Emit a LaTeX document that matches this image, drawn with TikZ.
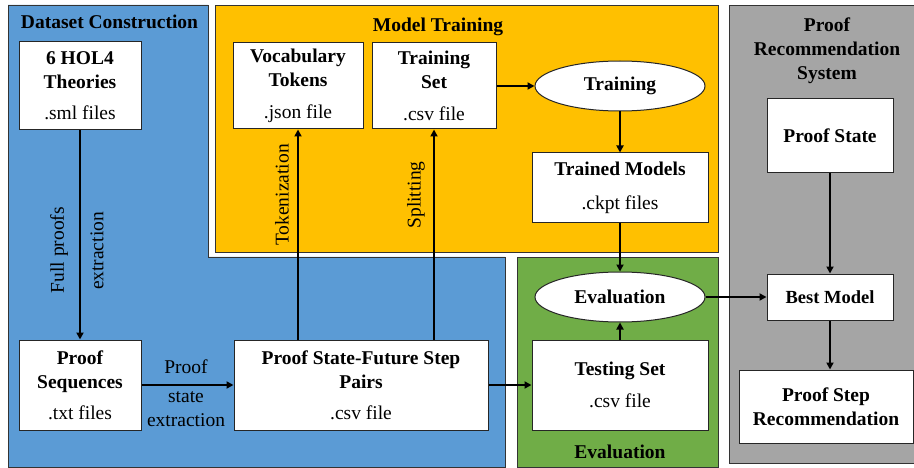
\documentclass[tikz,border=0pt]{standalone}
\usepackage{fontspec}
\setmainfont{Liberation Serif}
\usetikzlibrary{shapes.geometric,arrows.meta}
\definecolor{cblue}{HTML}{5B9BD5}
\definecolor{cyellow}{HTML}{FFC000}
\definecolor{cgreen}{HTML}{70AD47}
\definecolor{cgray}{HTML}{A5A5A5}
\begin{document}
\begin{tikzpicture}[x=1pt,y=-1pt,
  every node/.style={font=\fontsize{19.5}{24}\selectfont, inner sep=0pt},
  region/.style={draw=black!80, line width=0.9pt},
  box/.style={draw=black!85, fill=white, line width=1pt, align=center},
  oval/.style={ellipse, draw=black!85, fill=white, line width=1pt, minimum width=170pt, minimum height=50pt, font=\bfseries\fontsize{19.5}{24}\selectfont},
  arr/.style={line width=1.8pt, -{Triangle[length=7pt,width=7pt]}},
  title/.style={font=\bfseries\fontsize{19.5}{24}\selectfont, align=center, anchor=base},
  lab/.style={font=\fontsize{19.5}{24}\selectfont}
]
\useasboundingbox (0,0) rectangle (914,468);
\clip (0,0) rectangle (914,468);
\fill[white] (0,0) rectangle (914,468);
% regions
\draw[region, fill=cblue] (8,5) -- (208,5) -- (208,257) -- (505,257) -- (505,467) -- (8,467) -- cycle;
\draw[region, fill=cyellow] (215,5) rectangle (718,252);
\draw[region, fill=cgreen] (517,257) rectangle (718,467);
\draw[region, fill=cgray] (729,5) rectangle (918,463);
% titles
\node[title] (tds) at (109.5,29) {Dataset Construction};
\node[title] (tmt) at (438,32) {Model Training};
\node[title] (tpr1) at (827,32) {Proof};
\node[title] (tpr2) at (827,56) {Recommendation};
\node[title] (tpr3) at (827,80) {System};
\node[title] (tev) at (620,458) {Evaluation};
% boxes
\node[box, minimum width=122pt, minimum height=88pt] (hol) at (80,86) {\textbf{6 HOL4}\\\textbf{Theories}\\[7pt].sml files};
\node[box, minimum width=122pt, minimum height=90pt] (seq) at (80,385) {\textbf{Proof}\\\textbf{Sequences}\\[7pt].txt files};
\node[box, minimum width=254pt, minimum height=90pt] (psf) at (361,385) {\textbf{Proof State-Future Step}\\\textbf{Pairs}\\[7pt].csv file};
\node[box, minimum width=130pt, minimum height=86pt] (voc) at (298,86) {\textbf{Vocabulary}\\\textbf{Tokens}\\[8pt].json file};
\node[box, minimum width=124pt, minimum height=86pt] (tset) at (434,86) {\textbf{Training}\\\textbf{Set}\\[8pt].csv file};
\node[oval] (train) at (620,86) {Training};
\node[box, minimum width=176pt, minimum height=70pt] (tm) at (620,188) {\textbf{Trained Models}\\[10pt].ckpt files};
\node[oval] (eval) at (620,297) {Evaluation};
\node[box, minimum width=176pt, minimum height=90pt] (test) at (620,385) {\textbf{Testing Set}\\[8pt].csv file};
\node[box, minimum width=126pt, minimum height=74pt, font=\bfseries\fontsize{19.5}{24}\selectfont] (ps) at (830,136) {Proof State};
\node[box, minimum width=126pt, minimum height=46pt, font=\bfseries\fontsize{18.5}{22}\selectfont] (best) at (830,297) {Best Model};
\node[box, minimum width=174pt, minimum height=73pt, font=\bfseries\fontsize{19.5}{24}\selectfont] (psr) at (826,406.5) {Proof Step\\Recommendation};
% connectors
\draw[arr] (hol) -- (seq);
\draw[arr] (seq) -- (psf);
\draw[arr] (psf.north -| voc.south) -- (voc.south);
\draw[arr] (psf.north -| tset.south) -- (tset.south);
\draw[arr] (tset.east) -- (tset.east -| train.west);
\draw[arr] (train) -- (tm);
\draw[arr] (tm) -- (eval);
\draw[arr] (test) -- (eval);
\draw[arr] (psf) -- (test);
\draw[arr] (eval) -- (best);
\draw[arr] (ps) -- (best);
\draw[arr] (best.south) -- (best.south |- psr.north);
% labels
\node[lab, rotate=90] (l1) at (59,250) {Full proofs};
\node[lab, rotate=90] (l2) at (97,251) {extraction};
\node[lab] (l3) at (186,367) {Proof};
\node[lab] (l4) at (186,397) {state};
\node[lab] (l5) at (186,420) {extraction};
\node[lab, rotate=90] (l6) at (282,195) {Tokenization};
\node[lab, rotate=90] (l7) at (416,195) {Splitting};
\end{tikzpicture}
\end{document}
